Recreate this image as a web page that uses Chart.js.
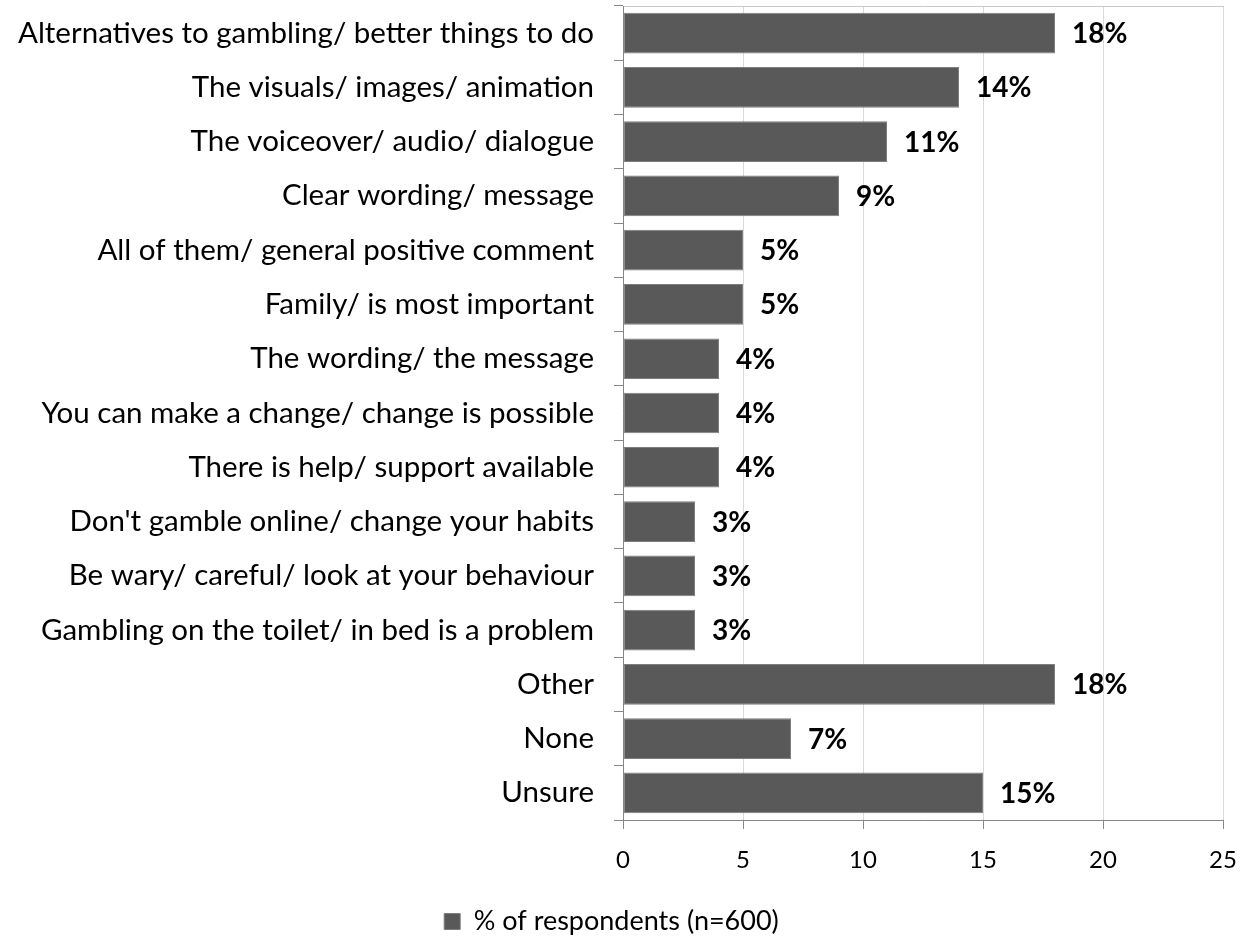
<!DOCTYPE html>
<html>
<head>
<meta charset="utf-8">
<script src="https://cdn.jsdelivr.net/npm/chart.js@4.4.1/dist/chart.umd.min.js"></script>
<style>
  html, body { margin: 0; padding: 0; background: #fff; }
  #wrap { width: 1243px; height: 937px; }
</style>
</head>
<body>
<div id="wrap"><canvas id="chart"></canvas></div>
<script>
// ── Dati ───────────────────────────────────────────────────
var categories = [
    'Alternatives to gambling/ better things to do',
    'The visuals/ images/ animation',
    'The voiceover/ audio/ dialogue',
    'Clear wording/ message',
    'All of them/ general positive comment',
    'Family/ is most important',
    'The wording/ the message',
    'You can make a change/ change is possible',
    'There is help/ support available',
    "Don't gamble online/ change your habits",
    'Be wary/ careful/ look at your behaviour',
    'Gambling on the toilet/ in bed is a problem',
    'Other',
    'None',
    'Unsure'
];
var respondents = [18, 14, 11, 9, 5, 5, 4, 4, 4, 3, 3, 3, 18, 7, 15];
var seriesLabel = '% of respondents (n=600)';
var xTicks = [0, 5, 10, 15, 20, 25];

var FONT = 'Lato, "Open Sans", sans-serif';

// Etichette valore a destra delle barre
var barValueLabels = {
    id: 'barValueLabels',
    afterDatasetsDraw: function (chart) {
        var ctx = chart.ctx;
        var meta = chart.getDatasetMeta(0);
        ctx.save();
        ctx.font = 'bold 28px ' + FONT;
        ctx.fillStyle = '#000';
        ctx.textAlign = 'left';
        ctx.textBaseline = 'middle';
        meta.data.forEach(function (bar, i) {
            ctx.fillText(respondents[i] + '%', bar.x + 17, bar.y + 1);
        });
        ctx.restore();
    }
};

// niente padding automatico per le etichette: l'area grafico resta fissa
function noPadding(scale) {
    scale.paddingTop = 0;
    scale.paddingBottom = 0;
    scale.paddingLeft = 0;
    scale.paddingRight = 0;
}

var ctx = document.getElementById('chart').getContext('2d');
new Chart(ctx, {
    type: 'bar',
    data: {
        labels: categories,
        datasets: [{
            label: seriesLabel,
            data: respondents,
            backgroundColor: '#595959',
            borderColor: '#7f7f7f',
            borderWidth: 1,
            borderSkipped: false,
            barPercentage: 0.75,
            categoryPercentage: 1
        }]
    },
    options: {
        indexAxis: 'y',
        responsive: true,
        maintainAspectRatio: false,
        animation: false,
        layout: { padding: { top: 6, right: 20, bottom: -8, left: 0 } },
        scales: {
            x: {
                position: 'bottom',
                min: 0,
                max: 25,
                afterBuildTicks: function (scale) {
                    scale.ticks = xTicks.map(function (v) { return { value: v }; });
                },
                afterFit: function (scale) {
                    scale.height = 83;
                    noPadding(scale);
                },
                ticks: {
                    color: '#000',
                    padding: 17,
                    font: { family: FONT, size: 24 }
                },
                grid: {
                    color: '#d9d9d9',
                    tickColor: '#868686',
                    tickLength: 9
                },
                border: { color: '#868686', width: 1 }
            },
            x2: {
                position: 'top',
                min: 0,
                max: 25,
                afterFit: function (scale) {
                    scale.height = 0;
                    noPadding(scale);
                },
                ticks: { display: false },
                grid: { display: false, drawTicks: false },
                border: { color: '#c8c8c8', width: 1 }
            },
            y: {
                afterFit: function (scale) {
                    scale.width = 623;
                    noPadding(scale);
                },
                ticks: {
                    color: '#000',
                    padding: 20,
                    font: { family: FONT, size: 29.5 }
                },
                grid: {
                    drawOnChartArea: false,
                    color: '#868686',
                    tickLength: 9,
                    offset: true
                },
                border: { color: '#868686', width: 1 }
            }
        },
        plugins: {
            legend: {
                position: 'bottom',
                labels: {
                    color: '#000',
                    boxWidth: 16,
                    boxHeight: 16,
                    padding: 5,
                    font: { family: FONT, size: 27 }
                }
            },
            tooltip: { enabled: false }
        }
    },
    plugins: [barValueLabels]
});
</script>
</body>
</html>
